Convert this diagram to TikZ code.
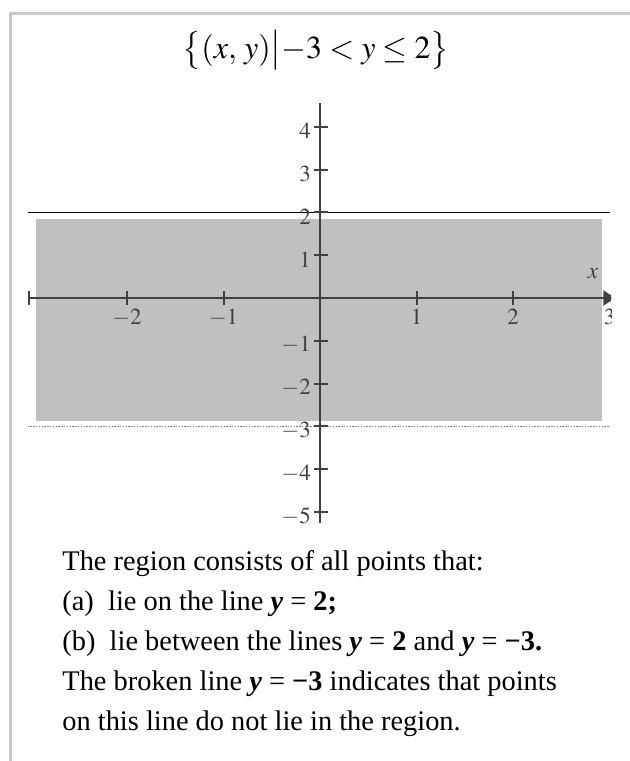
\documentclass[tikz,border=0pt]{standalone}
\usepackage{amsmath}
\usepackage{mathptmx}
\usepackage[no-math]{fontspec}
\setmainfont{Liberation Serif}
\usetikzlibrary{arrows.meta}
\definecolor{axisgray}{HTML}{404040}
\definecolor{shadegray}{HTML}{C0C0C0}
\definecolor{framegray}{HTML}{C8C8C8}
\tikzset{
  every picture/.style={line join=round, >=Stealth},
  axisline/.style={draw=axisgray, line width=1.1pt},
  tickmark/.style={draw=axisgray, line width=1pt},
  ticklabel/.style={text=axisgray, font=\fontsize{11.5}{13}\selectfont, inner sep=1pt},
  region/.style={fill=shadegray},
  solidbound/.style={draw=black, line width=0.7pt},
  brokenbound/.style={draw=gray, line width=0.7pt, dash pattern=on 0.7pt off 0.7pt},
  notes/.style={font=\fontsize{14.2}{17}\selectfont, anchor=base west, inner sep=0pt},
}

\begin{document}
\begin{tikzpicture}[x=0.5pt,y=0.5pt]
\useasboundingbox (0,0) rectangle (630,-761);
\draw[framegray, line width=1.5pt] (10,-761) -- (10,-13) -- (630,-13);
\node (title) at (316,-50) {\fontsize{16}{16}\selectfont $\bigl\{(x,\,y)\big|{-3}<y\le 2\bigr\}$};
% the graph, one unit = one step on the axes
\begin{scope}[shift={(320,-298)}, x=48.25pt, y=21.4pt]
\clip (-3.3,-5.6) rectangle (3.016,4.8);
\fill[region] (-2.943,-2.874) rectangle (2.922,1.846);
\draw[solidbound] (-3.03,2) -- (3.0,2);
\draw[brokenbound] (-3.03,-3) -- (2.99,-3);
\draw[axisline] (0,-5.25) -- (0,4.56);
\draw[axisline, {Bar[width=7pt]}-{Triangle[length=6pt,width=7.5pt]}] (-3.03,0) -- (3.06,0);
\foreach \k/\n in {-2/a,-1/b,0/c,1/d,2/e}
  \draw[tickmark] (\k,-0.164) -- (\k,0.164);
\foreach \k/\n in {-2/a,-1/b,1/d,2/e,3/f}
  \node[ticklabel, anchor=north] (xl\n) at (\k,-0.2) {$\k$};
\foreach \k/\n in {-5/a,-4/b,-3/c,-2/d,-1/e,0/f,1/g,2/h,3/i,4/j}
  \draw[tickmark] (-0.062,\k) -- (0.083,\k);
\foreach \k/\n in {-5/a,-4/b,-3/c,-2/d,-1/e,1/g,2/h,3/i,4/j}
  \node[ticklabel, anchor=east] (yl\n) at (-0.07,\k-0.1) {$\k$};
\node[text=axisgray, font=\fontsize{11.5}{13}\selectfont] (xname) at (2.83,0.58) {$x$};
\end{scope}
\node[notes] (line1) at (62,-570) {The region consists of all points that:};
\node[notes] (line2) at (62,-610) {(a)\ \ lie on the line \textbf{\textit{y}} = \textbf{2;}};
\node[notes] (line3) at (62,-650) {(b)\ \ lie between the lines \textbf{\textit{y}} = \textbf{2} and \textbf{\textit{y}} = \textbf{−3.}};
\node[notes] (line4) at (62,-690) {The broken line \textbf{\textit{y}} = \textbf{−3} indicates that points};
\node[notes] (line5) at (62,-730) {on this line do not lie in the region.};
\end{tikzpicture}
\end{document}
